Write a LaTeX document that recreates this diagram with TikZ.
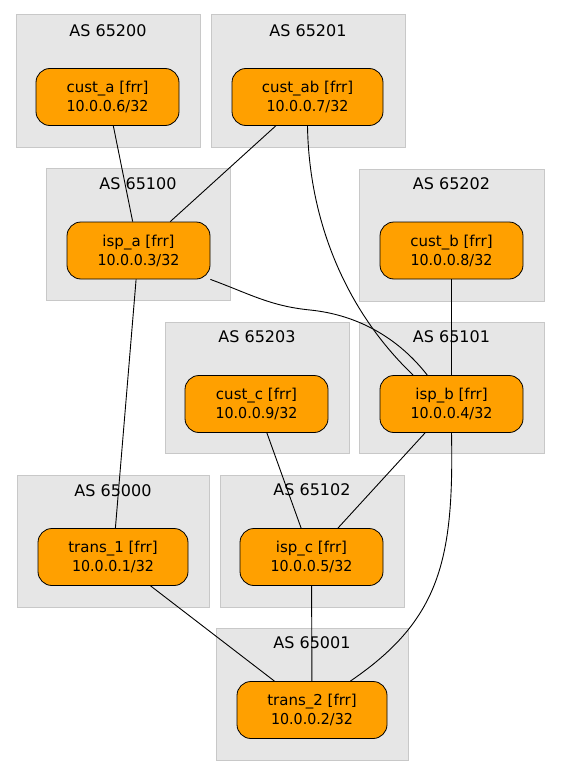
\documentclass[tikz,border=0pt]{standalone}
\usepackage{fontspec}
\setmainfont{DejaVu Sans}
\newfontfamily\ipfont[FakeStretch=0.95]{DejaVu Sans}
\definecolor{clfill}{HTML}{E6E6E6}
\definecolor{clborder}{HTML}{C8C8C8}
\definecolor{nodefill}{HTML}{FFA000}
\newcommand{\rtr}[2]{#1 [frr]\\{\ipfont #2}}
\begin{document}
\begin{tikzpicture}[x=1pt,y=-1pt,
  cluster/.style={draw=clborder, fill=clfill, line width=1pt, inner sep=0pt},
  cllabel/.style={font=\fontsize{16}{18}\selectfont, inner sep=0pt},
  router/.style={draw=black, fill=nodefill, line width=0.8pt, rounded corners=14pt,
    minimum height=57pt, inner sep=0pt, align=center,
    font=\fontsize{15}{19}\selectfont},
  link/.style={draw=black, line width=0.9pt}]
\useasboundingbox (0,0) rectangle (560,776);
% clusters
\node[cluster, minimum width=184pt, minimum height=132pt] (c65200) at (108,81) {};
\node[cluster, minimum width=194pt, minimum height=132pt] (c65201) at (308,81) {};
\node[cluster, minimum width=184pt, minimum height=132pt] (c65100) at (138,234) {};
\node[cluster, minimum width=185pt, minimum height=132pt] (c65202) at (451.5,235) {};
\node[cluster, minimum width=184pt, minimum height=131pt] (c65203) at (257,387.5) {};
\node[cluster, minimum width=185pt, minimum height=131pt] (c65101) at (451.5,387.5) {};
\node[cluster, minimum width=192pt, minimum height=132pt] (c65000) at (113,541) {};
\node[cluster, minimum width=184pt, minimum height=132pt] (c65102) at (312,541) {};
\node[cluster, minimum width=192pt, minimum height=132pt] (c65001) at (312,694) {};
% cluster labels
\node[cllabel] (l65200) at (108,31) {AS 65200};
\node[cllabel] (l65201) at (308,31) {AS 65201};
\node[cllabel] (l65100) at (138,184) {AS 65100};
\node[cllabel] (l65202) at (451.5,184) {AS 65202};
\node[cllabel] (l65203) at (257,337) {AS 65203};
\node[cllabel] (l65101) at (451.5,337) {AS 65101};
\node[cllabel] (l65000) at (113,491) {AS 65000};
\node[cllabel] (l65102) at (312,490) {AS 65102};
\node[cllabel] (l65001) at (312,643) {AS 65001};
% routers
\node[router, minimum width=143pt] (cust_a) at (107.5,97) {\rtr{cust\_a}{10.0.0.6/32}};
\node[router, minimum width=151pt] (cust_ab) at (307.5,97) {\rtr{cust\_ab}{10.0.0.7/32}};
\node[router, minimum width=143pt] (isp_a) at (138.5,250.5) {\rtr{isp\_a}{10.0.0.3/32}};
\node[router, minimum width=143pt] (cust_b) at (451.5,250.5) {\rtr{cust\_b}{10.0.0.8/32}};
\node[router, minimum width=143pt] (cust_c) at (256.5,404) {\rtr{cust\_c}{10.0.0.9/32}};
\node[router, minimum width=143pt] (isp_b) at (451.5,404) {\rtr{isp\_b}{10.0.0.4/32}};
\node[router, minimum width=150pt] (trans_1) at (113,557) {\rtr{trans\_1}{10.0.0.1/32}};
\node[router, minimum width=143pt] (isp_c) at (311.5,557) {\rtr{isp\_c}{10.0.0.5/32}};
\node[router, minimum width=150pt] (trans_2) at (312,710) {\rtr{trans\_2}{10.0.0.2/32}};
% links
\draw[link] (cust_a) -- (isp_a);
\draw[link] (cust_ab) -- (isp_a);
\draw[link] (cust_ab.south) .. controls (309,220) and (345,310) .. (isp_b.143);
\draw[link] (isp_a.south east) .. controls (250,294) and (270,306) .. (310,310)
  .. controls (360,315) and (400,340) .. (isp_b.130);
\draw[link] (cust_b) -- (isp_b);
\draw[link] (isp_a) -- (trans_1);
\draw[link] (cust_c) -- (isp_c);
\draw[link] (isp_b) -- (isp_c);
\draw[link] (isp_b.south) .. controls (454,560) and (440,620) .. (trans_2.37);
\draw[link] (trans_1) -- (trans_2);
\draw[link] (isp_c) -- (trans_2);
\end{tikzpicture}
\end{document}
